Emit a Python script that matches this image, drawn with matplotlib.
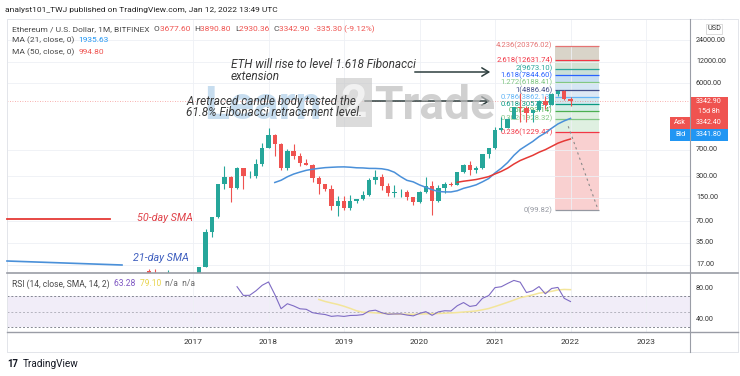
import numpy as np
import pandas as pd
import matplotlib
matplotlib.use("Agg")
import matplotlib.pyplot as plt
from matplotlib import font_manager
from matplotlib.lines import Line2D
from matplotlib.patches import Rectangle
from matplotlib.ticker import NullLocator

# ---- monthly ETH/USD candles (Bitfinex), Jun 2016 .. Jan 2022 ----
months = pd.period_range("2016-06", "2022-01", freq="M")
opens = [14.0, 12.2, 11.4, 11.9, 13.2, 11.4, 8.6,
         8.0, 10.7, 15.9, 50.0, 79.5, 231, 292, 202, 388, 302, 305, 446,
         756, 1118, 855, 395, 669, 578, 455, 433, 283, 232, 197, 113,
         133, 107, 136, 141, 162, 268, 293, 218, 172, 180, 182, 151,
         130, 180, 218, 133, 206, 231, 226, 346, 434, 360, 386, 616,
         737, 1314, 1417, 1918, 2772, 2707, 2275, 2536, 3433, 3000, 4288, 4630,
         3677.6]
highs = [15.0, 14.8, 12.3, 14.5, 13.3, 11.6, 9.6,
         11.3, 16.0, 55.0, 80.0, 232, 420, 300, 400, 395, 350, 525, 880,
         1420, 1180, 880, 710, 835, 630, 515, 440, 300, 235, 225, 160,
         160, 165, 145, 185, 285, 363, 320, 237, 225, 200, 193, 153,
         185, 290, 253, 227, 245, 252, 347, 445, 488, 418, 622, 755,
         1475, 2040, 1945, 2790, 4380, 2890, 2550, 3470, 4030, 4460, 4886, 4780,
         3890.8]
lows = [11.0, 10.4, 9.6, 11.1, 10.3, 7.9, 6.9,
        8.0, 10.4, 15.9, 42.0, 77.0, 200, 130, 196, 195, 280, 285, 420,
        755, 570, 370, 365, 515, 415, 425, 250, 167, 185, 100, 82,
        100, 102, 125, 140, 159, 230, 190, 160, 153, 153, 137, 117,
        126, 174, 86, 131, 175, 218, 222, 335, 308, 335, 374, 532,
        715, 1286, 1415, 1900, 1730, 1700, 1720, 2460, 2650, 2970, 3980, 3530,
        2930.36]
closes = [12.2, 11.4, 11.9, 13.2, 11.4, 8.6, 8.0,
          10.7, 15.9, 50.0, 79.5, 231, 292, 202, 388, 302, 305, 446, 756,
          1118, 855, 395, 669, 578, 455, 433, 283, 232, 197, 113, 133,
          107, 136, 141, 162, 268, 293, 218, 172, 180, 182, 151, 130,
          180, 218, 133, 206, 231, 226, 346, 434, 360, 386, 616, 737,
          1314, 1417, 1918, 2772, 2707, 2275, 2536, 3433, 3000, 4288, 4630, 3680,
          3342.9]

# MA(21) from Feb 2018, MA(50) from Jul 2020
ma21 = [244.2, 262.4, 293.7, 320.7, 341.7, 361.8, 374.9, 385.5, 394.4, 399.0,
        403.0, 404.3, 399.8, 392.6, 390.7, 385.0, 384.5, 380.4, 367.3, 339.9,
        295.3, 261.8, 249.2, 225.9, 208.8, 193.4, 182.6, 180.1, 179.9, 187.0,
        202.2, 213.0, 226.3, 249.2, 277.6, 332.4, 387.1, 464.5, 586.1, 706.9,
        806.6, 918.7, 1075.0, 1211.7, 1407.3, 1617.4, 1786.3, 1935.7]
ma50 = [245.9, 254.4, 261.3, 268.8, 280.9, 295.4, 321.5, 349.7, 387.8, 442.9,
        496.1, 540.0, 586.1, 648.9, 704.9, 782.9, 869.4, 936.9, 994.9]

# RSI(14) from Aug 2017, its SMA(14) from Sep 2018
rsi = [83.09, 71.44, 71.59, 77.55, 84.99, 89.41, 72.67, 53.73, 60.36, 57.42,
       53.61, 52.94, 48.45, 47.00, 45.97, 43.53, 44.29, 43.47, 44.70, 44.92,
       45.90, 50.69, 51.77, 48.34, 46.31, 46.73, 46.84, 45.26, 44.17, 47.41,
       49.80, 44.89, 49.50, 51.01, 50.68, 57.68, 61.94, 56.76, 58.09, 67.56,
       71.25, 81.84, 83.04, 87.40, 91.44, 89.10, 75.29, 77.56, 83.24, 73.56,
       80.74, 82.12, 67.56, 63.28]
rsi_ma = [66.02, 63.37, 61.37, 59.42, 56.99, 54.11, 50.93, 49.02, 48.80, 48.19,
          47.54, 47.02, 46.58, 46.46, 46.34, 46.21, 46.49, 46.88, 46.98, 47.32,
          47.76, 48.10, 48.60, 49.33, 49.93, 50.77, 52.26, 54.00, 56.61, 59.39,
          62.25, 65.22, 68.38, 70.22, 72.12, 74.44, 75.58, 76.92, 78.73, 79.41,
          79.10]

# Fibonacci drawing
fib_levels = ["0", "0.236", "0.382", "0.5", "0.618", "0.786", "1",
              "1.272", "1.618", "2", "2.618", "4.236"]
fib_prices = [99.82, 1229.47, 1928.32, 2493.14, 3057.97, 3862.13, 4886.46,
              6188.41, 7844.60, 9673.10, 12631.74, 20376.02]
fib_colors = ["#9598a1", "#f23645", "#81c784", "#4caf50", "#089981", "#64b5f6",
              "#44508a", "#81c784", "#2962ff", "#26a69a", "#f23645", "#e57373"]
fib_fills = ["#f9d0d0", "#dff0e1", "#dff0e1", "#d5ede6", "#d3e8ee", "#dde8f4",
             "#d5e6f4", "#c6def1", "#cadfd8", "#d3e2d3", "#d9d4c9"]

price_ticks = [17, 35, 70, 150, 300, 700, 6000, 12000, 24000, 48000]
years = [2017, 2018, 2019, 2020, 2021, 2022, 2023]

# ---- fonts ----
avail = {f.name for f in font_manager.fontManager.ttflist}
NARROW = "Liberation Sans Narrow" in avail
UI = "Liberation Sans Narrow" if NARROW else "Roboto"
k = 1.0 if NARROW else 0.81
plt.rcParams["font.family"] = [UI, "DejaVu Sans"]

W, H = 740, 376
def fx(px):
    return px / W
def fy(py):
    return 1 - py / H

fig = plt.figure(figsize=(W / 100, H / 100), dpi=100)
fig.patch.set_facecolor("white")

t = np.array(months.year + (months.month - 1) / 12, dtype=float)
o = np.array(opens); h = np.array(highs); l = np.array(lows); c = np.array(closes)
xlim = (2017 + (7 - 193) / 75.5, 2017 + (690 - 193) / 75.5)

# ---- main price pane ----
ax = fig.add_axes([fx(7), fy(273), 683 / W, 254 / H])
ax.set_yscale("log")
ax.set_xlim(*xlim)
ax.set_ylim(13.12, 47240)
ax.yaxis.set_minor_locator(NullLocator())
ax.set_yticks(price_ticks)
ax.set_xticks(years)
ax.tick_params(left=False, bottom=False, labelleft=False, labelbottom=False)
ax.grid(True, color="#eef0f5", lw=0.6)
for s in ax.spines.values():
    s.set_visible(False)

# fibonacci box
fx0, fx1 = 2017 + (555 - 193) / 75.5, 2017 + (599 - 193) / 75.5
for i in range(len(fib_prices) - 1):
    ax.fill_between([fx0, fx1], fib_prices[i], fib_prices[i + 1],
                    color=fib_fills[i], lw=0, zorder=1)
for lvl, p, col in zip(fib_levels, fib_prices, fib_colors):
    ax.hlines(p, fx0, fx1, color=col, lw=0.9, zorder=2)
    ax.text(fx0 - 0.03, p, f"{lvl}({p:.2f})", color=col, fontsize=6.8 * k,
            ha="right", va="center", zorder=2)
ax.plot([2021.97, 2022.36], [1500, 105], color="#8a8a8a", lw=0.8,
        ls=(0, (2, 3)), zorder=2)

# candles
up = c >= o
cols = np.where(up, "#26a69a", "#ef5350")
ax.vlines(t, l, h, colors=cols, lw=0.8, zorder=3)
ax.bar(t, np.abs(c - o), bottom=np.minimum(o, c), width=0.7 / 12,
       color=cols, lw=0, zorder=4)

ax.plot(t[20:], ma21, color="#4a90d9", lw=1.1, zorder=5)
ax.plot(t[49:], ma50, color="#e53935", lw=1.1, zorder=5)
ax.axhline(closes[-1], color="#ef5350", lw=0.6, ls=(0, (1, 2)), alpha=0.6, zorder=2)

# ---- RSI pane ----
rx = fig.add_axes([fx(7), fy(332), 683 / W, 59 / H])
rx.set_xlim(*xlim)
rx.set_ylim(22.67, 101.33)
rx.axhspan(30, 70, color="#7e57c2", alpha=0.1, lw=0)
for lv, a in [(70, 0.9), (50, 0.5), (30, 0.9)]:
    rx.axhline(lv, color="#787b86", lw=0.7, ls=(0, (2, 2)), alpha=a)
rx.plot(t[27:], rsi_ma, color="#f3e59a", lw=1.1)
rx.plot(t[14:], rsi, color="#7e6bc4", lw=0.8)
rx.set_xticks(years)
rx.set_xticklabels([str(y) for y in years])
rx.set_yticks([])
rx.tick_params(length=0, pad=5, labelsize=7.5 * k, labelcolor="#333333")
rx.grid(True, axis="x", color="#eef0f5", lw=0.6)
for s in rx.spines.values():
    s.set_visible(False)

# ---- price scale columns ----
pax = fig.add_axes([fx(690), fy(273), 48 / W, 254 / H])
pax.set_yscale("log")
pax.set_ylim(ax.get_ylim())
pax.set_xlim(0, 1)
pax.axis("off")
for p in price_ticks:
    tt = pax.text(0.125, p, f"{p:.2f}", fontsize=6.5 * k, color="#333333",
                  va="center", ha="left", clip_on=True)
    tt.set_clip_path(pax.patch)
fig.text(fx(714), fy(29), "USD", fontsize=6.5 * k, color="#333333", ha="center",
         va="center", bbox=dict(fc="white", ec="#d6d6d6", lw=0.6, pad=1.0))

rpax = fig.add_axes([fx(690), fy(332), 48 / W, 59 / H])
rpax.set_ylim(rx.get_ylim())
rpax.set_xlim(0, 1)
rpax.axis("off")
for v in (80, 40):
    rpax.text(0.125, v, f"{v:.2f}", fontsize=6.5 * k, color="#333333",
              va="center", ha="left")

# price tags
def tag(x0, y0, w, hgt, col, lines):
    fig.add_artist(Rectangle((fx(x0), fy(y0 + hgt)), w / W, hgt / H,
                             transform=fig.transFigure, color=col, lw=0))
    for txt, yy in lines:
        fig.text(fx(x0 + w / 2), fy(yy), txt, color="white", fontsize=6.3 * k,
                 ha="center", va="center")

tag(690, 97, 38, 20, "#ef5350", [(f"{closes[-1]:.2f}", 101.5), ("15d 8h", 111.5)])
tag(690, 117, 38, 12, "#ef5350", [("3342.40", 123)])
tag(670, 117, 20, 12, "#ef5350", [("Ask", 123)])
tag(690, 129, 38, 12, "#2196f3", [("3341.80", 135)])
tag(670, 129, 20, 12, "#2196f3", [("Bid", 135)])

# ---- frame lines ----
def fline(x0, y0, x1, y1, col, lw):
    fig.add_artist(Line2D([fx(x0), fx(x1)], [fy(y0), fy(y1)],
                          transform=fig.transFigure, color=col, lw=lw))

fline(7, 19, 738, 19, "#e3e5ea", 0.7)
fline(7, 352, 738, 352, "#e3e5ea", 0.7)
fline(7, 19, 7, 352, "#e3e5ea", 0.7)
fline(738, 19, 738, 352, "#e3e5ea", 0.7)
fline(7, 273, 738, 273, "#9a9da6", 1.2)
fline(7, 332, 738, 332, "#9a9da6", 1.0)
fline(690, 19, 690, 352, "#9a9da6", 0.8)

# ---- legend text rows ----
renderer = fig.canvas.get_renderer()
def chain(x, y, pieces, size):
    for txt, col in pieces:
        tt = fig.text(fx(x), fy(y), txt, color=col, fontsize=size * k,
                      ha="left", va="center")
        x += tt.get_window_extent(renderer=renderer).width

dark = "#4a4a4a"
red = "#ef5350"
chain(5, 10, [("analyst101_TWJ published on TradingView.com, Jan 12, 2022 13:49 UTC", "#222222")], 7.5)
chain(12, 29, [("Ethereum / U.S. Dollar, 1M, BITFINEX  ", dark),
               ("O", dark), (f"{opens[-1]:.2f}  ", red),
               ("H", dark), (f"{highs[-1]:.2f}  ", red),
               ("L", dark), (f"{lows[-1]:.2f}  ", red),
               ("C", dark), (f"{closes[-1]:.2f}  ", red),
               ("-335.30 (-9.12%)", red)], 7.4)
chain(12, 40, [("MA (21, close, 0)  ", dark), ("1935.63", "#2196f3")], 7.4)
chain(12, 52, [("MA (50, close, 0)  ", dark), ("994.80", red)], 7.4)
chain(12, 284, [("RSI (14, close, SMA, 14, 2)  ", dark), (f"{rsi[-1]:.2f}  ", "#7e57c2"),
                (f"{rsi_ma[-1]:.2f}  ", "#e8d44d"), ("n/a  n/a", "#6a6a6a")], 7.6)

# ---- watermark ----
wm = 41 * k
fig.text(fx(204), fy(106), "Learn", fontsize=wm, fontweight="bold",
         color="#b9d5ec", alpha=0.8, ha="left", va="center", zorder=0.5)
fig.add_artist(Rectangle((fx(336), fy(127)), 36 / W, 49 / H, transform=fig.transFigure,
                         color="#c4c4c4", alpha=0.6, lw=0, zorder=0.5))
fig.text(fx(354), fy(104), "2", fontsize=wm, fontweight="bold", color="#f4f4f4",
         alpha=0.9, ha="center", va="center", zorder=0.6)
fig.text(fx(374), fy(106), "Trade", fontsize=wm, fontweight="bold",
         color="#bdbdbd", alpha=0.7, ha="left", va="center", zorder=0.5)

# ---- annotations ----
note = "#3a3a3a"
nsz = 10.4 * k
fig.text(fx(231), fy(65), "ETH will rise to level 1.618 Fibonacci", style="italic",
         fontsize=nsz, color=note, ha="left", va="center")
fig.text(fx(231), fy(76), "extension", style="italic",
         fontsize=nsz, color=note, ha="left", va="center")
fig.text(fx(186), fy(101.5), "A retraced candle body tested the", style="italic",
         fontsize=nsz, color=note, ha="left", va="center")
fig.text(fx(186), fy(112.5), "61.8% Fibonacci retracement level.", style="italic",
         fontsize=nsz, color=note, ha="left", va="center")
arrow = dict(arrowstyle="->,head_length=0.5,head_width=0.3", color="#2e3f3f", lw=1.1)
ax.annotate("", xy=(fx(493), fy(72)), xytext=(fx(412), fy(72)),
            xycoords="figure fraction", textcoords="figure fraction", arrowprops=arrow)
ax.annotate("", xy=(fx(493), fy(101)), xytext=(fx(362), fy(101)),
            xycoords="figure fraction", textcoords="figure fraction", arrowprops=arrow)

fline(7, 219, 110, 219, "#e53935", 1.3)
fig.text(fx(137), fy(218), "50-day SMA", style="italic", fontsize=9.6 * k,
         color="#e0434a", ha="left", va="center")
fline(7, 261, 122, 265, "#4a90d9", 1.2)
fig.text(fx(133), fy(258), "21-day SMA", style="italic", fontsize=9.6 * k,
         color="#3f5fbf", ha="left", va="center")

# ---- footer logo ----
fig.text(fx(7), fy(364), "17", fontsize=8.5 * k, fontweight="bold", color="#131722",
         ha="left", va="center")
fig.text(fx(23), fy(364), "TradingView", fontsize=8.9 * k, color="#131722",
         ha="left", va="center")

fig.savefig("out.png", dpi=100)
